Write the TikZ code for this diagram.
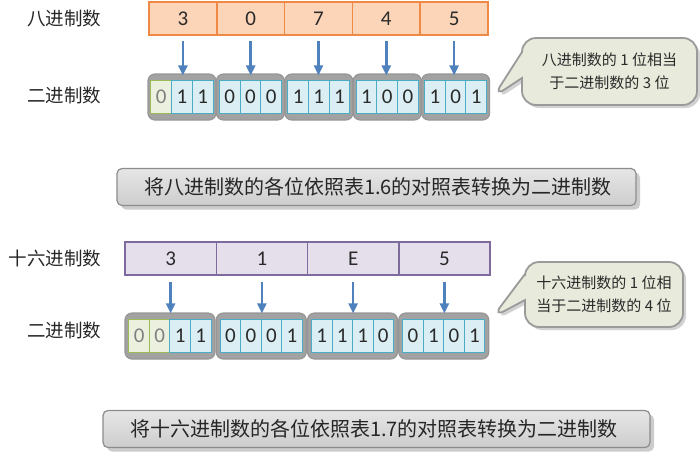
\documentclass[tikz,border=0pt]{standalone}
\usepackage{fontspec}
\setmainfont{Noto Sans CJK SC}
\newfontfamily\digfont{Carlito}
\usetikzlibrary{shapes.callouts,shadows,arrows.meta,calc}
\definecolor{octfill}{HTML}{FCD5B8}
\definecolor{octline}{HTML}{EE8A45}
\definecolor{hexfill}{HTML}{E5DFEC}
\definecolor{hexline}{HTML}{7F6A9E}
\definecolor{bfill}{HTML}{DAEEF3}
\definecolor{bline}{HTML}{4BACC6}
\definecolor{gfill}{HTML}{EBF1DE}
\definecolor{gline}{HTML}{9BBB59}
\definecolor{grpgray}{HTML}{A2A2A2}
\definecolor{grpline}{HTML}{969696}
\definecolor{arrblue}{HTML}{4F81BD}
\definecolor{bubfill}{HTML}{E8EADB}
\definecolor{bubline}{HTML}{9A9A9A}
\definecolor{captop}{HTML}{E6E6E6}
\definecolor{capbot}{HTML}{CDCDCD}
\definecolor{capline}{HTML}{8C8C8C}
\definecolor{txt}{HTML}{262626}
\definecolor{digtxt}{HTML}{2A2A2A}
\definecolor{gtxt}{HTML}{808080}
\begin{document}
\begin{tikzpicture}[x=1pt,y=-1pt,
  lbl/.style={font=\fontsize{18.5}{20}\selectfont, text=txt, inner sep=0pt},
  octcell/.style={draw=octline, fill=octfill, line width=1.5pt, minimum width=67.8pt, minimum height=33pt, inner sep=0pt, font=\digfont\fontsize{21}{21}\selectfont, text=digtxt},
  hexcell/.style={draw=hexline, fill=hexfill, line width=1.5pt, minimum width=91.25pt, minimum height=33pt, inner sep=0pt, font=\digfont\fontsize{21}{21}\selectfont, text=digtxt},
  grp/.style={fill=grpgray, draw=grpline, line width=1.2pt, rounded corners=7pt, minimum height=46pt, inner sep=0pt},
  bcell/.style={draw=bline, fill=bfill, line width=1pt, minimum width=20.7pt, minimum height=33pt, inner sep=0pt, font=\digfont\fontsize{21}{21}\selectfont, text=digtxt},
  gcell/.style={bcell, draw=gline, fill=gfill, text=gtxt},
  arr/.style={-{Triangle[length=10pt,width=9pt]}, line width=2.6pt, draw=arrblue},
  bubble/.style={rectangle callout, rounded corners=14pt, fill=bubfill, draw=bubline, line width=1.8pt, callout pointer width=26pt,
     drop shadow={shadow xshift=3pt, shadow yshift=-3pt, fill=black!35}, align=center, font=\fontsize{15}{23}\selectfont, text=digtxt, inner sep=0pt},
  capbox/.style={draw=capline, line width=1.2pt, rounded corners=5pt, top color=captop, bottom color=capbot,
     drop shadow={shadow xshift=4pt, shadow yshift=-4pt, fill=black!40}, minimum height=37pt, inner xsep=0pt, inner ysep=0pt,
     font=\fontsize{20}{22}\selectfont, text=txt, align=left}
]
\useasboundingbox (0,0) rectangle (700,451);

% ---------- octal ----------
\node[lbl] (lo) at (64,18) {八进制数};
\node[lbl] (lb1) at (64,95) {二进制数};
\foreach \d [count=\i] in {3,0,7,4,5}
  \node[octcell] (o\i) at ({149+67.8*(\i-0.5)},18.5) {\d};
\foreach \i in {1,...,5}
  \node[grp, minimum width=68pt] (g\i) at ({148+68.4*(\i-1)+34},97) {};
\node[gcell] (c11) at ([xshift=-20.7pt]g1.center) {0};
\node[bcell] (c12) at (g1.center) {1};
\node[bcell] (c13) at ([xshift=20.7pt]g1.center) {1};
\foreach \bits [count=\k] in {{0,0,0},{1,1,1},{1,0,0},{1,0,1}}{
  \pgfmathtruncatemacro{\i}{\k+1}
  \foreach \b [count=\j] in \bits
    \node[bcell] (c\i\j) at ([xshift={(\j-2)*20.7pt}]g\i.center) {\b};
}
\foreach \i in {1,...,5}
  \draw[arr] ($(o\i.south)+(0,5)$) -- ($(o\i.south |- g\i.north)+(0,2)$);
\coordinate (p1) at ($(g5.east)+(3,0)$);
\node[bubble, minimum width=175pt, minimum height=67pt, callout absolute pointer={(p1)}] (bub1) at (609.5,71.5)
  {八进制数的 1 位相当\\于二进制数的 3 位};
\node[capbox, minimum width=519pt, text width=465pt, xshift=13.5pt] (cap1) at (363,187) {将八进制数的各位依照表1.6的对照表转换为二进制数};

% ---------- hexadecimal ----------
\node[lbl] (lh) at (55,258) {十六进制数};
\node[lbl] (lb2) at (64,330) {二进制数};
\foreach \d [count=\i] in {3,1,E,5}
  \node[hexcell] (h\i) at ({125+91.25*(\i-0.5)},258.5) {\d};
\foreach \i in {1,...,4}
  \node[grp, minimum width=90pt] (hg\i) at ({125+91.25*(\i-1)+45},336) {};
\node[gcell] (d11) at ([xshift=-30.75pt]hg1.center) {0};
\node[gcell] (d12) at ([xshift=-10.25pt]hg1.center) {0};
\node[bcell] (d13) at ([xshift=10.25pt]hg1.center) {1};
\node[bcell] (d14) at ([xshift=30.75pt]hg1.center) {1};
\foreach \bits [count=\k] in {{0,0,0,1},{1,1,1,0},{0,1,0,1}}{
  \pgfmathtruncatemacro{\i}{\k+1}
  \foreach \b [count=\j] in \bits
    \node[bcell, minimum width=20.5pt] (d\i\j) at ([xshift={(\j-2.5)*20.5pt}]hg\i.center) {\b};
}
\foreach \i in {1,...,4}
  \draw[arr] ($(h\i.south)+(0,6)$) -- ($(h\i.south |- hg\i.north)+(0,1)$);
\coordinate (p2) at ($(hg4.north east)+(3,5)$);
\node[bubble, minimum width=158pt, minimum height=65pt, callout absolute pointer={(p2)}] (bub2) at (604,294.5)
  {十六进制数的 1 位相\\当于二进制数的 4 位};
\node[capbox, minimum width=547pt, text width=493pt, xshift=13.5pt] (cap2) at (363,429) {将十六进制数的各位依照表1.7的对照表转换为二进制数};
\end{tikzpicture}
\end{document}
